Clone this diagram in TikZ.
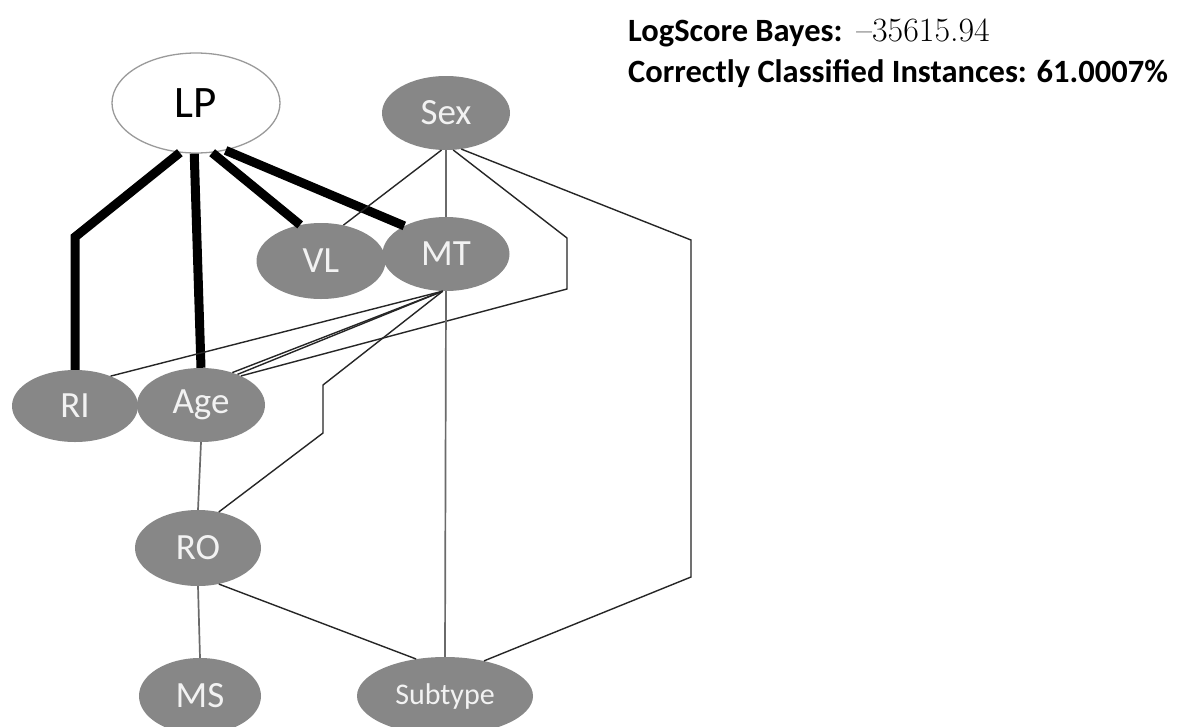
\documentclass[tikz,border=0pt]{standalone}
\usepackage{fontspec}
\newfontfamily\carlito{Carlito}
\usetikzlibrary{shapes.geometric}
\definecolor{nodegray}{HTML}{878787}
\definecolor{nodetext}{HTML}{F2F2F2}
\definecolor{edgedark}{HTML}{262626}
\definecolor{edgegray}{HTML}{6A6A6A}
\definecolor{lpborder}{HTML}{9A9A9A}
\begin{document}
\begin{tikzpicture}[x=1pt,y=-1pt,
  nd/.style={ellipse, fill=nodegray, draw=none, inner sep=0pt, text=nodetext,
    font=\carlito\fontsize{37}{37}\selectfont},
  lpnode/.style={ellipse, fill=white, draw=lpborder, line width=1.3pt, inner sep=0pt,
    text=black, font=\carlito\fontsize{45}{45}\selectfont},
  strong/.style={line width=9pt, draw=black},
  weak/.style={line width=1.4pt, draw=edgedark},
  weakv/.style={line width=1.7pt, draw=edgegray},
  hdr/.style={anchor=base west, inner sep=0pt, font=\carlito\bfseries\fontsize{32.5}{32.5}\selectfont}
]
\useasboundingbox (0,0) rectangle (1183,726);
\fill[white] (0,0) rectangle (1183,726);

% nodes
\node[lpnode, minimum width=168pt, minimum height=100pt] (LP) at (196,103) {\raisebox{-3pt}{LP}};
\node[nd, minimum width=128pt, minimum height=74pt] (Sex) at (446,113) {Sex};
\node[nd, minimum width=129pt, minimum height=76pt] (VL) at (321,261) {VL};
\node[nd, minimum width=127pt, minimum height=74pt] (MT) at (446,254) {MT};
\node[nd, minimum width=126pt, minimum height=72pt] (RI) at (75,406) {RI};
\node[nd, minimum width=128pt, minimum height=74pt] (Age) at (201,405) {\raisebox{-4pt}{Age}};
\node[nd, minimum width=126pt, minimum height=76pt] (RO) at (198,548) {RO};
\node[nd, minimum width=122pt, minimum height=76pt] (MS) at (200,696) {MS};
\node[nd, minimum width=176pt, minimum height=78pt, font=\carlito\fontsize{30}{30}\selectfont] (Subtype) at (445,696) {\raisebox{-3pt}{Subtype}};

% bend points
\coordinate (bRI) at (75,237);
\coordinate (bA1) at (567,238);
\coordinate (bA2) at (567,289);
\coordinate (bS1) at (691,240);
\coordinate (bS2) at (691,577);
\coordinate (bR1) at (323,385);
\coordinate (bR2) at (323,433);

% strong edges from LP
\draw[strong] (LP.252) -- (bRI) -- (RI.north);
\draw[strong] (LP.268) -- (Age.north);
\draw[strong] (LP.288) -- (VL.120);
\draw[strong] (LP.302) -- (MT.146);

% weak edges
\draw[weak] (Sex.263) -- (VL.58);
\draw[weakv] (Sex.south) -- (MT.north);
\draw[weak] (Sex.281) -- (bA1) -- (bA2) -- (Age.36);
\draw[weak] (Sex.293) -- (bS1) -- (bS2) -- (Subtype.42);
\draw[weakv] (MT.south) -- (Subtype.north);
\draw[weak] (MT.265) -- (RI.40);
\draw[weak] (MT.265) -- (Age.46);
\draw[weak] (MT.265) -- (Age.40);
\draw[weak] (MT.265) -- (bR1) -- (bR2) -- (RO.60);
\draw[weakv] (Age.south) -- (RO.north);
\draw[weakv] (RO.south) -- (MS.north);
\draw[weak] (RO.300) -- (Subtype.128);

% header text
\node[hdr] (h1) at (628,41) {LogScore Bayes:\hspace{14pt}{\mdseries\rmfamily\fontsize{34}{34}\selectfont \textendash 35615.94}};
\node[hdr] (h2) at (628,82) {Correctly Classified Instances: 61.0007\%};
\end{tikzpicture}
\end{document}
